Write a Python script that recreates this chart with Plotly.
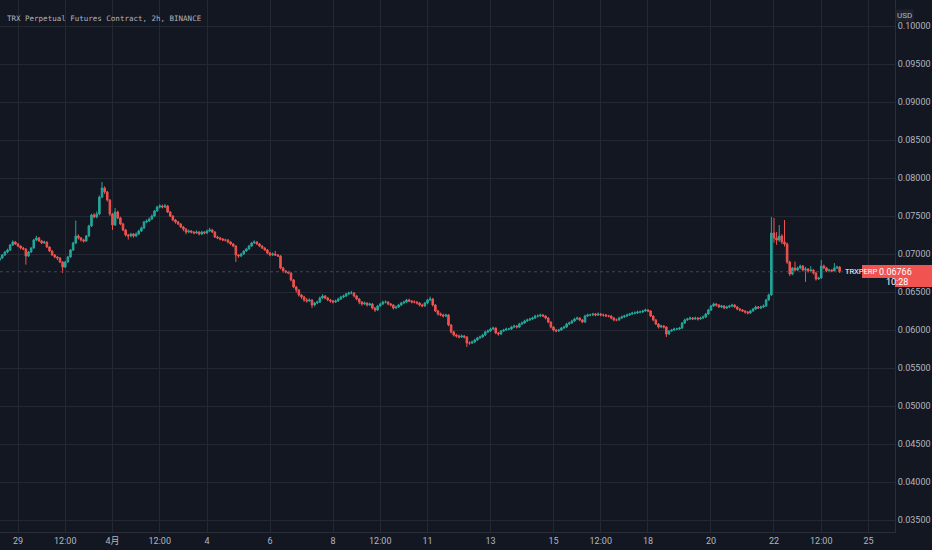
import numpy as np
import pandas as pd
import plotly.graph_objects as go

# TRX perpetual, 2h candles, prices in 1e-5 USD
start_time = "2022-03-28 10:00"

closes = [
    6947, 6987, 7026, 7053, 7118, 7158, 7132, 7105, 7079, 7066,
    6974, 7026, 7079, 7184, 7211, 7171, 7145, 7158, 7092, 7039,
    6987, 6961, 6947, 6895, 6829, 6895, 6961, 7053, 7145, 7237,
    7211, 7184, 7171, 7237, 7369, 7513, 7487, 7526, 7750, 7868,
    7816, 7711, 7526, 7382, 7553, 7474, 7395, 7316, 7250, 7237,
    7263, 7237, 7263, 7303, 7342, 7421, 7434, 7461, 7500, 7566,
    7618, 7632, 7618, 7632, 7553, 7500, 7447, 7421, 7395, 7355,
    7329, 7289, 7303, 7289, 7276, 7289, 7263, 7289, 7276, 7303,
    7316, 7289, 7224, 7211, 7197, 7184, 7184, 7158, 7132, 7105,
    6987, 6974, 7000, 7039, 7066, 7105, 7145, 7158, 7132, 7105,
    7079, 7053, 7013, 6987, 7000, 6987, 6974, 6816, 6776, 6763,
    6750, 6658, 6566, 6526, 6461, 6434, 6395, 6382, 6395, 6329,
    6355, 6368, 6421, 6447, 6421, 6395, 6382, 6368, 6382, 6408,
    6434, 6447, 6474, 6487, 6487, 6447, 6408, 6368, 6342, 6355,
    6329, 6342, 6289, 6263, 6316, 6342, 6368, 6368, 6342, 6329,
    6289, 6303, 6329, 6355, 6368, 6395, 6382, 6368, 6368, 6355,
    6329, 6316, 6355, 6395, 6408, 6329, 6250, 6210, 6197, 6184,
    6197, 6066, 5974, 5934, 5921, 5908, 5921, 5908, 5829, 5829,
    5842, 5868, 5895, 5908, 5934, 5974, 5987, 6013, 6026, 5961,
    5947, 5987, 6000, 6013, 6013, 6039, 6053, 6039, 6079, 6092,
    6118, 6132, 6145, 6158, 6184, 6184, 6197, 6184, 6158, 6105,
    6039, 6000, 5987, 6000, 6026, 6039, 6079, 6092, 6118, 6145,
    6158, 6132, 6105, 6184, 6197, 6197, 6210, 6197, 6210, 6197,
    6197, 6184, 6184, 6158, 6132, 6132, 6158, 6171, 6184, 6197,
    6210, 6224, 6224, 6237, 6237, 6250, 6263, 6250, 6184, 6132,
    6079, 6039, 6053, 6039, 5947, 5987, 6000, 6013, 6013, 6026,
    6092, 6132, 6145, 6158, 6145, 6158, 6145, 6158, 6171, 6210,
    6263, 6316, 6342, 6329, 6303, 6316, 6289, 6303, 6316, 6329,
    6303, 6276, 6263, 6250, 6237, 6224, 6250, 6276, 6303, 6289,
    6303, 6316, 6395, 6461, 7276, 7211, 7184, 7237, 7158, 7132,
    6895, 6737, 6816, 6789, 6816, 6842, 6789, 6803, 6776, 6789,
    6750, 6671, 6684, 6842, 6816, 6776, 6789, 6776, 6816, 6829, 6766,
]

highs = [
    6970, 7000, 7040, 7070, 7130, 7180, 7170, 7145, 7115, 7095,
    7075, 7040, 7090, 7200, 7240, 7225, 7185, 7175, 7165, 7100,
    7050, 7000, 6975, 6960, 6905, 6910, 6975, 7065, 7160, 7440,
    7260, 7225, 7200, 7250, 7385, 7530, 7540, 7560, 7770, 7947,
    7890, 7830, 7720, 7540, 7605, 7570, 7490, 7410, 7330, 7265,
    7280, 7275, 7285, 7320, 7360, 7435, 7455, 7480, 7520, 7580,
    7635, 7655, 7650, 7660, 7645, 7565, 7510, 7460, 7435, 7405,
    7370, 7340, 7320, 7315, 7300, 7310, 7300, 7305, 7300, 7320,
    7345, 7330, 7300, 7240, 7225, 7210, 7200, 7195, 7170, 7145,
    7115, 7000, 7015, 7050, 7080, 7120, 7160, 7180, 7170, 7145,
    7115, 7090, 7065, 7025, 7020, 7040, 7000, 6985, 6830, 6790,
    6780, 6760, 6670, 6580, 6535, 6475, 6450, 6420, 6415, 6405,
    6370, 6385, 6440, 6470, 6460, 6435, 6410, 6395, 6400, 6425,
    6450, 6465, 6490, 6505, 6515, 6500, 6460, 6420, 6380, 6375,
    6365, 6360, 6355, 6300, 6330, 6360, 6385, 6390, 6380, 6355,
    6340, 6320, 6345, 6370, 6385, 6410, 6410, 6395, 6390, 6380,
    6365, 6345, 6370, 6410, 6440, 6420, 6340, 6265, 6230, 6215,
    6215, 6210, 6080, 5990, 5950, 5940, 5940, 5935, 5920, 5850,
    5860, 5885, 5910, 5925, 5950, 5990, 6005, 6030, 6045, 6035,
    5975, 6000, 6015, 6030, 6030, 6055, 6070, 6065, 6095, 6110,
    6135, 6150, 6160, 6175, 6200, 6205, 6215, 6210, 6195, 6170,
    6115, 6050, 6015, 6015, 6040, 6055, 6095, 6110, 6135, 6160,
    6175, 6170, 6145, 6200, 6215, 6215, 6225, 6225, 6230, 6225,
    6215, 6210, 6200, 6195, 6170, 6150, 6175, 6190, 6200, 6215,
    6225, 6240, 6245, 6255, 6255, 6265, 6280, 6275, 6260, 6195,
    6145, 6090, 6070, 6065, 6050, 6000, 6015, 6030, 6030, 6040,
    6105, 6150, 6160, 6175, 6170, 6175, 6170, 6175, 6190, 6225,
    6280, 6330, 6360, 6355, 6340, 6330, 6325, 6320, 6330, 6345,
    6340, 6315, 6290, 6275, 6260, 6250, 6265, 6290, 6320, 6315,
    6320, 6335, 6410, 6480, 7487, 7474, 7290, 7382, 7260, 7447,
    7150, 6910, 6830, 6900, 6835, 6860, 6855, 6830, 6815, 6840,
    6800, 6765, 6700, 6921, 6860, 6830, 6805, 6800, 6880, 6845, 6840,
]

lows = [
    6895, 6934, 6975, 7010, 7040, 7105, 7120, 7090, 7060, 7050,
    6860, 6960, 7015, 7070, 7170, 7160, 7130, 7135, 7080, 7025,
    6975, 6945, 6920, 6880, 6750, 6815, 6885, 6950, 7040, 7130,
    7190, 7165, 7150, 7160, 7225, 7355, 7470, 7470, 7510, 7735,
    7790, 7690, 7500, 7316, 7370, 7460, 7380, 7300, 7230, 7190,
    7220, 7215, 7225, 7250, 7290, 7330, 7405, 7420, 7450, 7490,
    7555, 7600, 7600, 7605, 7540, 7485, 7430, 7400, 7380, 7340,
    7300, 7260, 7275, 7270, 7260, 7265, 7245, 7250, 7260, 7265,
    7295, 7275, 7210, 7195, 7180, 7170, 7165, 7140, 7115, 7090,
    6895, 6950, 6960, 6990, 7030, 7055, 7095, 7135, 7120, 7090,
    7065, 7040, 6995, 6970, 6975, 6975, 6960, 6800, 6755, 6745,
    6735, 6640, 6550, 6490, 6440, 6410, 6370, 6360, 6370, 6289,
    6310, 6340, 6355, 6410, 6405, 6380, 6360, 6350, 6355, 6370,
    6395, 6420, 6435, 6460, 6470, 6430, 6390, 6340, 6320, 6330,
    6310, 6315, 6270, 6237, 6250, 6305, 6330, 6350, 6325, 6310,
    6270, 6275, 6290, 6315, 6340, 6355, 6365, 6350, 6350, 6335,
    6310, 6300, 6305, 6340, 6385, 6310, 6235, 6190, 6180, 6165,
    6170, 6050, 5955, 5915, 5900, 5890, 5895, 5890, 5776, 5805,
    5815, 5830, 5855, 5885, 5895, 5920, 5960, 5975, 6000, 5945,
    5925, 5935, 5975, 5990, 5995, 6000, 6025, 6020, 6025, 6065,
    6080, 6105, 6120, 6130, 6145, 6165, 6170, 6170, 6140, 6090,
    6020, 5980, 5970, 5975, 5990, 6015, 6025, 6065, 6080, 6105,
    6130, 6115, 6090, 6095, 6170, 6180, 6185, 6180, 6185, 6180,
    6175, 6170, 6165, 6140, 6115, 6115, 6120, 6145, 6160, 6170,
    6185, 6200, 6205, 6210, 6220, 6225, 6240, 6235, 6170, 6115,
    6065, 6020, 6025, 6020, 5908, 5935, 5975, 5990, 5995, 6000,
    6015, 6080, 6120, 6130, 6130, 6135, 6125, 6135, 6145, 6160,
    6200, 6250, 6305, 6310, 6290, 6290, 6275, 6275, 6290, 6300,
    6290, 6260, 6245, 6235, 6215, 6205, 6210, 6240, 6265, 6275,
    6275, 6290, 6305, 6385, 6450, 7150, 7120, 7160, 7130, 7100,
    6870, 6710, 6720, 6770, 6775, 6800, 6770, 6632, 6755, 6760,
    6730, 6650, 6660, 6675, 6800, 6760, 6770, 6760, 6765, 6800, 6750,
]

first_open = 6921

tick_dates = ["2022-03-29", "2022-03-30 12:00", "2022-04-01", "2022-04-02 12:00",
              "2022-04-04", "2022-04-06", "2022-04-08", "2022-04-09 12:00",
              "2022-04-11", "2022-04-13", "2022-04-15", "2022-04-16 12:00",
              "2022-04-18", "2022-04-20", "2022-04-22", "2022-04-23 12:00",
              "2022-04-25"]
tick_labels = ["29", "12:00", "4月", "12:00", "4", "6", "8", "12:00", "11",
               "13", "15", "12:00", "18", "20", "22", "12:00", "25"]

last_price = 0.06766
countdown = "10:28"

# build the frame
c = np.array(closes) / 1e5
h = np.array(highs) / 1e5
l = np.array(lows) / 1e5
o = np.concatenate([[first_open / 1e5], c[:-1]])
times = pd.date_range(start_time, periods=len(closes), freq="2h")

BG = "#131722"
GRID = "#242833"
TXT = "#b2b5be"
UP = "#26a69a"
DOWN = "#ef5350"

fig = go.Figure()
fig.add_trace(go.Candlestick(
    x=times, open=o, high=h, low=l, close=c,
    increasing=dict(line=dict(color=UP, width=1), fillcolor=UP),
    decreasing=dict(line=dict(color=DOWN, width=1), fillcolor=DOWN),
    whiskerwidth=0, hoverinfo="skip", showlegend=False,
))

W, H = 932, 550
ml, mr, mt, mb = 0, 37, 0, 18
pw, ph = W - ml - mr, H - mt - mb


def px(x):
    return x / pw


def py(y):
    return 1 - y / ph


# current price line
fig.add_shape(type="line", xref="paper", yref="y", x0=0, x1=1,
              y0=last_price, y1=last_price,
              line=dict(color="#434651", width=1, dash="dot"))

# price tag
fig.add_shape(type="rect", xref="paper", yref="paper", x0=px(862), x1=px(895),
              y0=py(278), y1=py(265), fillcolor="#f05350", line_width=0)
fig.add_shape(type="rect", xref="paper", yref="paper", x0=px(895), x1=px(932),
              y0=py(287), y1=py(265), fillcolor="#f05350", line_width=0)

fig.add_annotation(text="TRXPERP", xref="paper", yref="paper", x=px(878.5), y=py(271.5),
                   showarrow=False, font=dict(size=7.5, color="white", family="Roboto"))
fig.add_annotation(text=f"{last_price:.5f}", xref="paper", yref="paper", x=px(913.5), y=py(271.5),
                   showarrow=False, font=dict(size=9, color="white", family="Roboto"))
fig.add_annotation(text=countdown, xref="paper", yref="paper", x=px(909.5), y=py(282),
                   showarrow=False, font=dict(size=9, color="white", family="Roboto"))

# currency badge and title
fig.add_annotation(text="USD", xref="paper", yref="paper", x=px(913.5), y=py(9),
                   showarrow=False, bgcolor="#1e222d", borderpad=1,
                   font=dict(size=8, color=TXT, family="Roboto"))
fig.add_annotation(text="TRX Perpetual Futures Contract, 2h, BINANCE",
                   xref="paper", yref="paper", x=px(5), y=py(12),
                   xanchor="left", showarrow=False,
                   font=dict(size=7.5, color=TXT, family="DejaVu Sans Mono"))

fig.update_layout(
    width=W, height=H,
    margin=dict(l=ml, r=mr, t=mt, b=mb),
    paper_bgcolor=BG, plot_bgcolor=BG,
    hovermode=False,
    boxgap=0.15,
    font=dict(family="Roboto, Noto Sans CJK JP", color=TXT, size=9),
    xaxis=dict(
        type="date",
        range=["2022-03-28 10:17", "2022-04-25 20:12"],
        tickvals=tick_dates, ticktext=tick_labels,
        showgrid=True, gridcolor=GRID, gridwidth=1,
        showline=True, linecolor="#2a2e39", linewidth=1,
        ticks="", zeroline=False,
        rangeslider=dict(visible=False),
        tickfont=dict(size=9, color=TXT, family="Roboto, Noto Sans CJK JP"),
    ),
    yaxis=dict(
        side="right",
        range=[0.033421, 0.103421],
        tick0=0, dtick=0.005, tickformat=".5f",
        showgrid=True, gridcolor=GRID, gridwidth=1,
        showline=True, linecolor="#2a2e39", linewidth=1,
        ticks="", zeroline=False,
        tickfont=dict(size=9, color=TXT),
    ),
)

fig.write_html("out.html", config={"displayModeBar": False},
               post_script="document.body.style.margin='0';")
